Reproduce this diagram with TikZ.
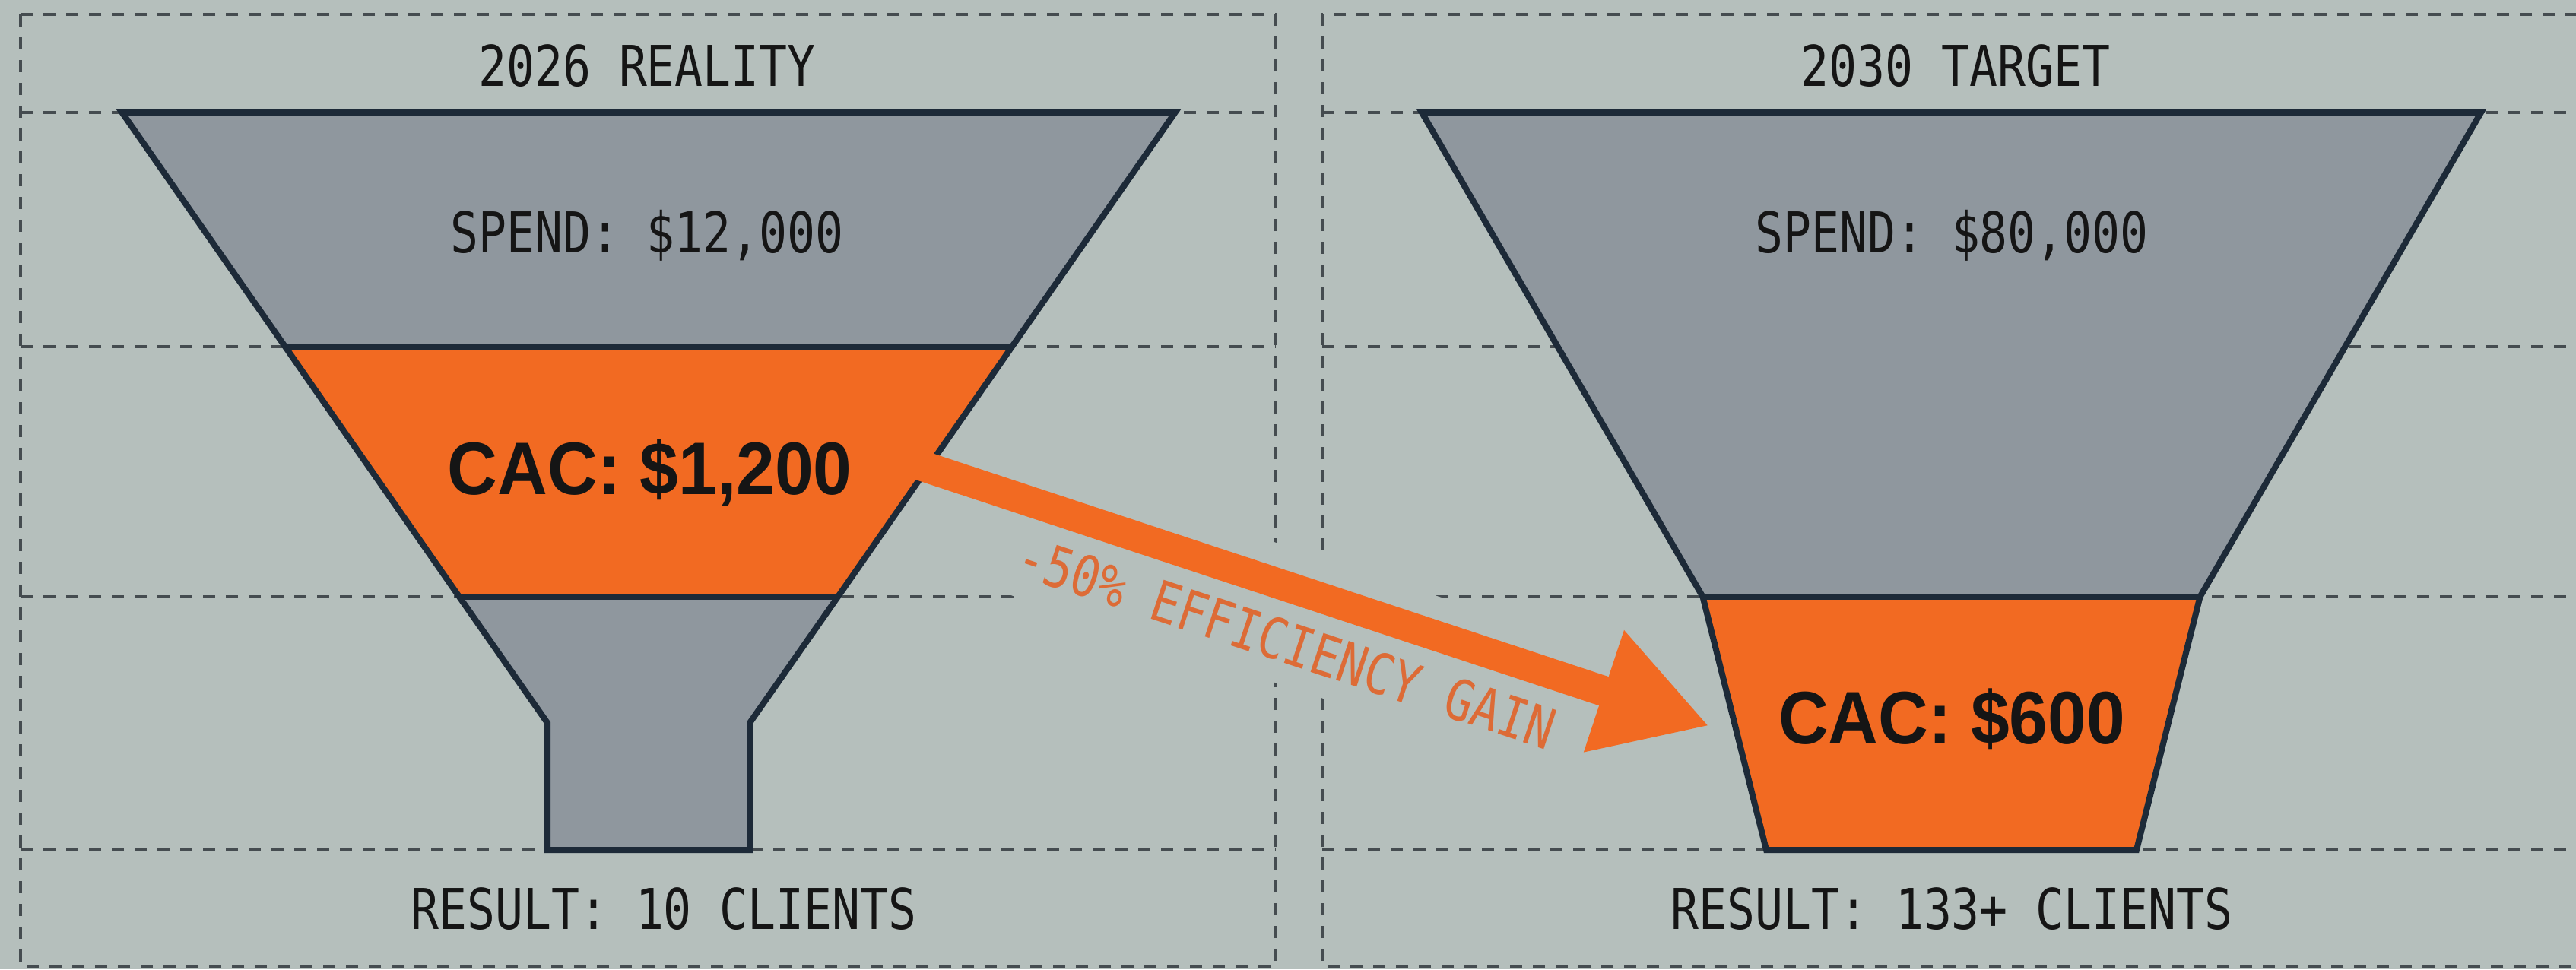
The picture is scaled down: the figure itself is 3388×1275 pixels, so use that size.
\documentclass[tikz,border=0pt]{standalone}
\usepackage{fontspec}
\usetikzlibrary{arrows.meta}
\newfontfamily\monof{DejaVu Sans Mono}[FakeStretch=0.83]
\newfontfamily\cacf{Liberation Sans}[FakeStretch=0.93]
\definecolor{bgc}{HTML}{B5BFBC}
\definecolor{gridc}{HTML}{454C50}
\definecolor{fgrey}{HTML}{8F979E}
\definecolor{orng}{HTML}{F26A22}
\definecolor{navy}{HTML}{1D2A38}
\definecolor{lblc}{HTML}{DD6B36}
\definecolor{ink}{HTML}{151515}
\begin{document}
\begin{tikzpicture}[x=1pt,y=-1pt,
  gridline/.style={draw=gridc, line width=4pt, dash pattern=on 16pt off 14pt},
  greyfill/.style={fill=fgrey},
  orangefill/.style={fill=orng},
  outline/.style={draw=navy, line width=8pt, line join=miter},
  monotext/.style={font=\monof\fontsize{74}{80}\selectfont, text=ink, inner sep=0pt, anchor=base},
  cactext/.style={font=\cacf\bfseries\fontsize{98}{110}\selectfont, text=ink, inner sep=0pt, anchor=base},
  gaintext/.style={font=\monof\fontsize{74}{80}\selectfont, text=lblc, inner sep=0pt},
  bigarrow/.style={draw=orng, line width=40pt, -{Triangle[length=146pt, width=158pt]}},
  maskbox/.style={fill=bgc}
]
\clip (0,0) rectangle (3388,1275);
\fill[bgc] (0,0) rectangle (3388,1275);
\useasboundingbox (0,0) rectangle (3388,1275);

% dashed grids
\draw[gridline] (27,19) rectangle (1678,1271);
\foreach \yy in {148,456,785,1118} \draw[gridline] (27,\yy) -- (1678,\yy);
\draw[gridline] (3420,19) -- (1739,19) -- (1739,1271) -- (3420,1271);
\foreach \yy in {148,456,785,1118} \draw[gridline] (1739,\yy) -- (3420,\yy);

% mask behind the arrow label
\fill[maskbox] (1377,614) -- (2089,850) -- (2034,1016) -- (1322,780.5) -- cycle;

% left funnel coordinates
\coordinate (A1) at (160.5,148);  \coordinate (A2) at (1545.5,148);
\coordinate (B1) at (375,456);    \coordinate (B2) at (1331,456);
\coordinate (C1) at (604,785);    \coordinate (C2) at (1102,785);
\coordinate (D1) at (720,951);    \coordinate (D2) at (986,951);
\coordinate (E1) at (720,1118);   \coordinate (E2) at (986,1118);
% right funnel coordinates
\coordinate (F1) at (1870,148);   \coordinate (F2) at (3263,148);
\coordinate (G1) at (2239.5,785); \coordinate (G2) at (2893.5,785);
\coordinate (H1) at (2323,1118);  \coordinate (H2) at (2810,1118);

% fills
\fill[greyfill] (A1) -- (A2) -- (B2) -- (B1) -- cycle;
\fill[orangefill] (B1) -- (B2) -- (C2) -- (C1) -- cycle;
\fill[greyfill] (C1) -- (C2) -- (D2) -- (E2) -- (E1) -- (D1) -- cycle;
\fill[greyfill] (F1) -- (F2) -- (G2) -- (G1) -- cycle;
\fill[orangefill] (G1) -- (G2) -- (H2) -- (H1) -- cycle;

% outlines
\draw[outline] (A1) -- (A2) -- (B2) -- (C2) -- (D2) -- (E2) -- (E1) -- (D1) -- (C1) -- (B1) -- cycle;
\draw[outline] (B1) -- (B2);
\draw[outline] (C1) -- (C2);
\draw[outline] (F1) -- (F2) -- (G2) -- (H2) -- (H1) -- (G1) -- cycle;
\draw[outline] (G1) -- (G2);

% arrow
\coordinate (arrS) at (1180,602);
\coordinate (arrE) at (2248,955);
\draw[bigarrow] (arrS) -- (arrE);
\node[gaintext, rotate=-18.3] (gain) at (1692,845) {-50\% EFFICIENCY GAIN};

% texts
\node[monotext] (t1) at (851,113) {2026 REALITY};
\node[monotext] (t2) at (2572,113) {2030 TARGET};
\node[monotext] (s1) at (851,332) {SPEND: \$12,000};
\node[monotext] (s2) at (2567,332) {SPEND: \$80,000};
\node[cactext] (c1) at (854.6,650) {CAC: \$1,200};
\node[cactext] (c2) at (2567,978) {CAC: \$600};
\node[monotext] (r1) at (873,1222) {RESULT: 10 CLIENTS};
\node[monotext] (r2) at (2567,1222) {RESULT: 133+ CLIENTS};
\end{tikzpicture}
\end{document}
